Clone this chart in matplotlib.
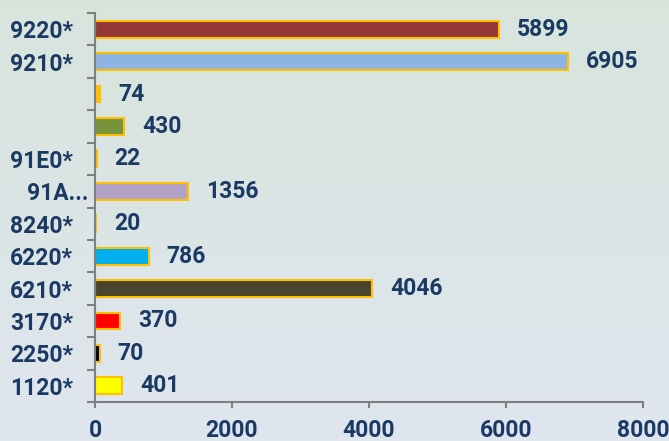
import matplotlib
matplotlib.use("Agg")
import matplotlib.pyplot as plt
import matplotlib.transforms as mtrans
import numpy as np

# data (bottom to top)
labels = ["1120*", "2250*", "3170*", "6210*", "6220*", "8240*", "91A...", "91E0*", "", "", "9210*", "9220*"]
values = [401, 70, 370, 4046, 786, 20, 1356, 22, 430, 74, 6905, 5899]
colors = ["#FFFF00", "#000000", "#FF0000", "#4A452A", "#00B0F0", "#FFC000",
          "#B3A2C7", "#FFC000", "#77933C", "#FFC000", "#8EB4E3", "#943634"]
xticks = [0, 2000, 4000, 6000, 8000]

TXT = "#1A3A63"
FS = 16.5
plt.rcParams['font.family'] = ['Roboto', 'DejaVu Sans']

fig = plt.figure(figsize=(6.69, 4.41), dpi=100)

# gradient background
bg = fig.add_axes([0, 0, 1, 1])
g = np.linspace(0, 1, 256)
top = np.array([0.847, 0.894, 0.863])
bot = np.array([0.875, 0.902, 0.937])
img = top[None, :] * (1 - g[:, None]) + bot[None, :] * g[:, None]
bg.imshow(img[:, None, :], aspect='auto', extent=[0, 1, 0, 1])
bg.axis('off')

ax = fig.add_axes([95 / 669, 39 / 441, 548 / 669, 389 / 441])
ax.patch.set_alpha(0)
y = np.arange(len(values))
ax.barh(y, values, height=0.52, color=colors, edgecolor="#FFC000", linewidth=1.5)

for yi, v in zip(y, values):
    ax.text(v + 260, yi, str(v), va='center', ha='left', fontsize=FS,
            fontweight='bold', color=TXT)

ax.set_xlim(0, 8000)
ax.set_ylim(-0.5, len(values) - 0.5)
ax.set_xticks(xticks)
ax.set_xticklabels([str(t) for t in xticks], fontsize=FS, fontweight='bold', color=TXT)
ax.set_yticks(y)
ax.set_yticklabels(labels, fontsize=FS, fontweight='bold', color=TXT)
ax.tick_params(axis='y', length=0, pad=16)
ax.tick_params(axis='x', length=4.5, width=1.5, color="#808080", pad=8)
# category boundary ticks
ax.set_yticks(np.arange(-0.5, len(values)), minor=True)
ax.tick_params(axis='y', which='minor', length=6, width=1.5, color="#808080")

# truncated label sits closer to the axis
for t in ax.get_yticklabels():
    if t.get_text().endswith("..."):
        t.set_transform(t.get_transform() + mtrans.ScaledTranslation(16 / 100, 0, fig.dpi_scale_trans))

for s in ['top', 'right']:
    ax.spines[s].set_visible(False)
for s in ['left', 'bottom']:
    ax.spines[s].set_color("#808080")
    ax.spines[s].set_linewidth(1.5)

fig.savefig("out.png", dpi=100)
